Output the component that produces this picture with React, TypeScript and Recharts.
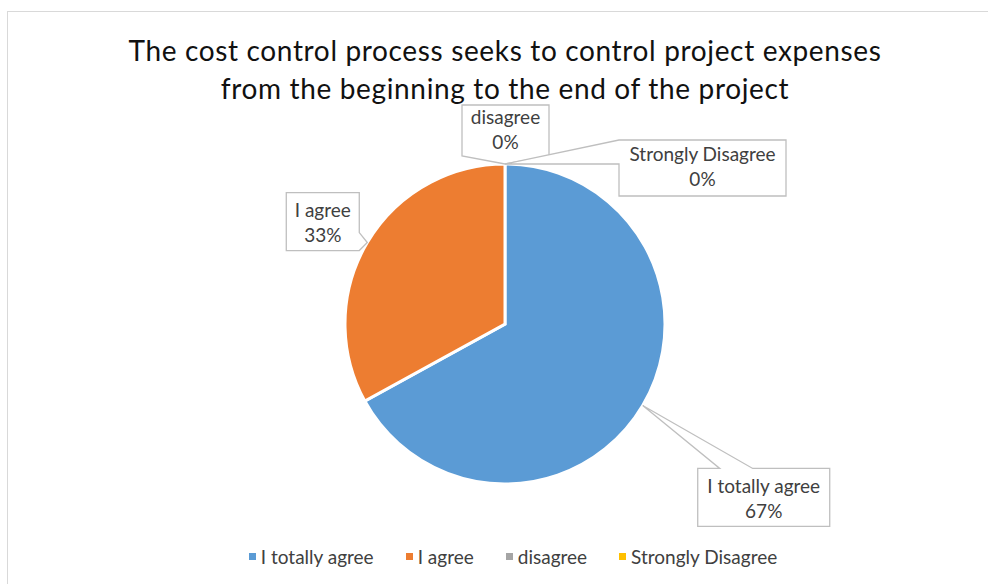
import React from "react";
import { Legend, Pie, PieChart, Cell } from "recharts";

const categories = ["I totally agree", "I agree", "disagree", "Strongly Disagree"];
const responses = [67, 33, 0, 0];
const colors = ["#5B9BD5", "#ED7D31", "#A5A5A5", "#FFC000"];

const data = categories.map((name, i) => ({ name, value: responses[i] }));

// callout box placement relative to the slice anchor on the rim
const calloutBoxes = [
  { dx: 55, dy: 63, w: 132, h: 58, ty: 25, side: "top", from: 22, to: 55 },
  { dx: -81, dy: -50, w: 73, h: 58, ty: 24, side: "right", from: 40, to: 58 },
  { dx: -43, dy: -59, w: 87, h: 51, ty: 19, side: "bottom", from: 0, to: 87 },
  { dx: 114, dy: -24, w: 167, h: 56, ty: 21, side: "left", from: 0, to: 24 },
];

const RADIAN = Math.PI / 180;
const FONT = "Lato, 'Open Sans', sans-serif";

function calloutPath(x: number, y: number, w: number, h: number, side: string, f: number, t: number, ax: number, ay: number) {
  const p: string[] = [`M${x},${y}`];
  if (side === "top") p.push(`L${x + f},${y}`, `L${ax},${ay}`, `L${x + t},${y}`);
  p.push(`L${x + w},${y}`);
  if (side === "right") p.push(`L${x + w},${y + f}`, `L${ax},${ay}`, `L${x + w},${y + t}`);
  p.push(`L${x + w},${y + h}`);
  if (side === "bottom") p.push(`L${x + t},${y + h}`, `L${ax},${ay}`, `L${x + f},${y + h}`);
  p.push(`L${x},${y + h}`);
  if (side === "left") p.push(`L${x},${y + t}`, `L${ax},${ay}`, `L${x},${y + f}`);
  p.push("Z");
  return p.join(" ");
}

const renderCallout = (props: any) => {
  const { cx, cy, midAngle, outerRadius, index, name, percent } = props;
  const ax = cx + outerRadius * Math.cos(-midAngle * RADIAN);
  const ay = cy + outerRadius * Math.sin(-midAngle * RADIAN);
  const b = calloutBoxes[index];
  const x = ax + b.dx;
  const y = ay + b.dy;
  return (
    <g key={`callout-${index}`}>
      <path d={calloutPath(x, y, b.w, b.h, b.side, b.from, b.to, ax, ay)} fill="#fff" stroke="#bfbfbf" strokeWidth={1.3} />
      <text x={x + b.w / 2} y={y + b.ty} textAnchor="middle" fill="#404040" fontSize={19} fontFamily={FONT}>
        {name}
      </text>
      <text x={x + b.w / 2} y={y + b.ty + 25} textAnchor="middle" fill="#404040" fontSize={19} fontFamily={FONT}>
        {Math.round(percent * 100)}%
      </text>
    </g>
  );
};

const renderLegend = () => (
  <div style={{ display: "flex", justifyContent: "center", gap: 32, fontFamily: FONT, fontSize: 19, color: "#404040" }}>
    {categories.map((name, i) => (
      <div key={name} style={{ display: "flex", alignItems: "center", gap: 5 }}>
        <div style={{ width: 7, height: 7, backgroundColor: colors[i] }} />
        <span>{name}</span>
      </div>
    ))}
  </div>
);

const App = () => {
  return (
    <div style={{ position: "absolute", left: 0, top: 0, width: 988, height: 584, overflow: "hidden", background: "#fff" }}>
      <div style={{ position: "absolute", left: 7, top: 11, width: 1000, height: 600, border: "1px solid #d9d9d9" }} />
      <div
        style={{
          position: "absolute",
          left: 0,
          top: 31,
          width: 1010,
          textAlign: "center",
          fontFamily: FONT,
          fontSize: 28,
          letterSpacing: 0.65,
          lineHeight: "38px",
          color: "#111",
        }}
      >
        The cost control process seeks to control project expenses
        <br />
        from the beginning to the end of the project
      </div>
      <div style={{ position: "absolute", left: 0, top: 0 }}>
        <PieChart width={988} height={584} margin={{ top: 0, right: 0, bottom: 0, left: 0 }}>
          <Pie
            data={data}
            dataKey="value"
            nameKey="name"
            cx={505}
            cy={324}
            outerRadius={160}
            startAngle={90}
            endAngle={-270}
            stroke="#fff"
            strokeWidth={3}
            label={renderCallout}
            labelLine={false}
            isAnimationActive={false}
          >
            {data.map((d, i) => (
              <Cell key={d.name} fill={colors[i]} />
            ))}
          </Pie>
          <Legend content={renderLegend} wrapperStyle={{ left: 19, top: 545, width: 988 }} />
        </PieChart>
      </div>
    </div>
  );
};

export default App;
